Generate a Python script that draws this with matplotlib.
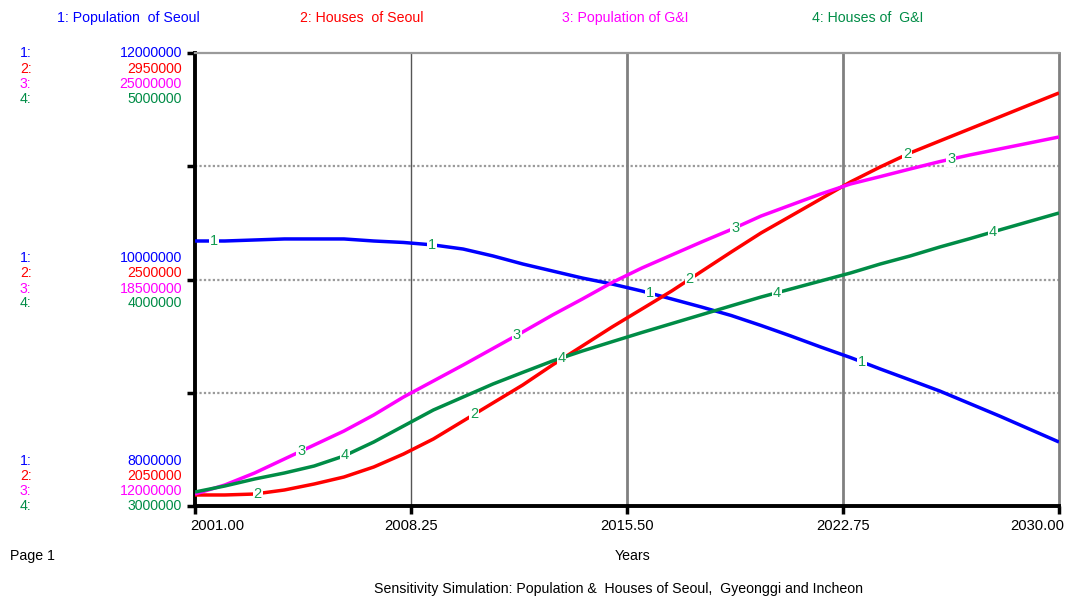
import matplotlib
matplotlib.use("Agg")
import matplotlib.pyplot as plt
import matplotlib.transforms as mtransforms
import numpy as np

plt.rcParams['font.family'] = ['Liberation Sans', 'DejaVu Sans']

years = np.arange(2001, 2031)

pop_seoul = [10.340, 10.340, 10.349, 10.358, 10.358, 10.358, 10.340, 10.327, 10.305, 10.269,
             10.208, 10.137, 10.075, 10.013, 9.960, 9.898, 9.828, 9.757, 9.682, 9.594,
             9.501, 9.404, 9.311, 9.210, 9.113, 9.015, 8.905, 8.795, 8.680, 8.565]
houses_seoul = [2.0719, 2.0719, 2.0738, 2.0818, 2.0937, 2.1076, 2.1275, 2.1533, 2.1831, 2.2189,
                2.2547, 2.2904, 2.3302, 2.3679, 2.4057, 2.4414, 2.4772, 2.5160, 2.5547, 2.5925,
                2.6262, 2.6600, 2.6938, 2.7236, 2.7514, 2.7753, 2.7991, 2.8229, 2.8468, 2.8706]
pop_gi = [12.344, 12.603, 12.947, 13.349, 13.751, 14.152, 14.612, 15.128, 15.587, 16.046,
          16.520, 16.993, 17.481, 17.940, 18.414, 18.830, 19.203, 19.576, 19.935, 20.322,
          20.638, 20.954, 21.241, 21.453, 21.671, 21.884, 22.073, 22.245, 22.417, 22.590]
houses_gi = [3.0618, 3.0883, 3.1192, 3.1457, 3.1766, 3.2208, 3.2826, 3.3532, 3.4238, 3.4812,
             3.5386, 3.5898, 3.6402, 3.6843, 3.7254, 3.7660, 3.8053, 3.8446, 3.8839, 3.9227,
             3.9581, 3.9934, 4.0287, 4.0684, 4.1038, 4.1435, 4.1801, 4.2185, 4.2561, 4.2936]

series_names = ["1: Population  of Seoul", "2: Houses  of Seoul",
                "3: Population of G&I", "4: Houses of  G&I"]
series_vals = [np.array(pop_seoul) * 1e6, np.array(houses_seoul) * 1e6,
               np.array(pop_gi) * 1e6, np.array(houses_gi) * 1e6]
y_min = [8000000, 2050000, 12000000, 3000000]
y_max = [12000000, 2950000, 25000000, 5000000]
y_mid = [10000000, 2500000, 18500000, 4000000]
colors = ['#0000ff', '#ff0000', '#ff00ff', '#008c46']
label_green = '#129a50'
x_ticks = [2001, 2008.25, 2015.5, 2022.75, 2030]
marker_years = [
    [2001.64, 2008.96, 2016.27, 2023.40],
    [2003.10, 2010.37, 2017.60, 2024.90],
    [2004.56, 2011.80, 2019.13, 2026.38],
    [2006.04, 2013.30, 2020.54, 2027.79],
]

W, H = 1068, 597
fig = plt.figure(figsize=(W / 100, H / 100), dpi=100)
ax = fig.add_axes([195 / W, 1 - 506 / H, 864 / W, 453 / H])

axes = [ax]
for i in range(3):
    t = ax.twinx()
    t.set_axis_off()
    axes.append(t)

for i, a in enumerate(axes):
    a.set_xlim(2001, 2030)
    a.set_ylim(y_min[i], y_max[i])

# grid
for f in [0.25, 0.5, 0.75]:
    ax.axhline(y_min[0] + f * (y_max[0] - y_min[0]), color='#9a9a9a', lw=1.6,
               ls=(0, (1, 1)), zorder=1)
ax.axvline(2008.25, color='#555555', lw=1.0, zorder=1)
for xv in [2015.5, 2022.75]:
    ax.axvline(xv, color='#808080', lw=2.0, zorder=1)

for s in ['left', 'bottom']:
    ax.spines[s].set_color('black')
    ax.spines[s].set_linewidth(2.8)
ax.spines['top'].set_color('#9a9a9a')
ax.spines['top'].set_linewidth(1.6)
ax.spines['top'].set_linestyle((0, (1, 1)))
ax.spines['right'].set_color('#808080')
ax.spines['right'].set_linewidth(2.0)

ax.set_xticks(x_ticks)
ax.set_xticklabels(['%.2f' % v for v in x_ticks], fontsize=10.6)
ax.set_yticks([y_min[0] + f * (y_max[0] - y_min[0]) for f in [0, 0.25, 0.5, 0.75, 1]])
ax.set_yticklabels([])
ax.tick_params(axis='both', direction='out', length=6, width=2.5, color='black', pad=3)

# first / last x tick labels kept inside the plot width
tl = ax.get_xticklabels()
tl[0].set_horizontalalignment('left')
tl[0].set_transform(tl[0].get_transform() +
                    mtransforms.ScaledTranslation(-5 / 100, 0, fig.dpi_scale_trans))
tl[-1].set_horizontalalignment('right')
tl[-1].set_transform(tl[-1].get_transform() +
                     mtransforms.ScaledTranslation(5 / 100, 0, fig.dpi_scale_trans))

# lines
for i, a in enumerate(axes):
    a.plot(years, series_vals[i], color=colors[i], lw=2.5, zorder=3 + i,
           solid_capstyle='butt')
    for my in marker_years[i]:
        yv = np.interp(my, years, series_vals[i])
        a.text(my, yv, str(i + 1), color=label_green, fontsize=10.5,
               ha='center', va='center', zorder=10,
               bbox=dict(facecolor='white', edgecolor='none', pad=0.6))

# legend at top
leg_x = [57, 300, 562, 812]
for i in range(4):
    fig.text(leg_x[i] / W, 1 - 18 / H, series_names[i], color=colors[i],
             fontsize=10.2, ha='left', va='center')

# left scale labels
groups = [(y_max, [53, 69, 84, 99]), (y_mid, [258, 273, 289, 303]), (y_min, [461, 476, 491, 506])]
for vals, ys in groups:
    for i in range(4):
        fig.text(20 / W, 1 - ys[i] / H, '%d:' % (i + 1), color=colors[i],
                 fontsize=10.2, ha='left', va='center')
        fig.text(182 / W, 1 - ys[i] / H, '%d' % vals[i], color=colors[i],
                 fontsize=10.2, ha='right', va='center')

fig.text(10 / W, 1 - 556 / H, 'Page 1', fontsize=10.2, ha='left', va='center')
fig.text(633 / W, 1 - 556 / H, 'Years', fontsize=10.2, ha='center', va='center')
fig.text(618 / W, 1 - 589 / H,
         'Sensitivity Simulation: Population &  Houses of Seoul,  Gyeonggi and Incheon',
         fontsize=10.2, ha='center', va='center')

fig.savefig('out.png', dpi=100)
